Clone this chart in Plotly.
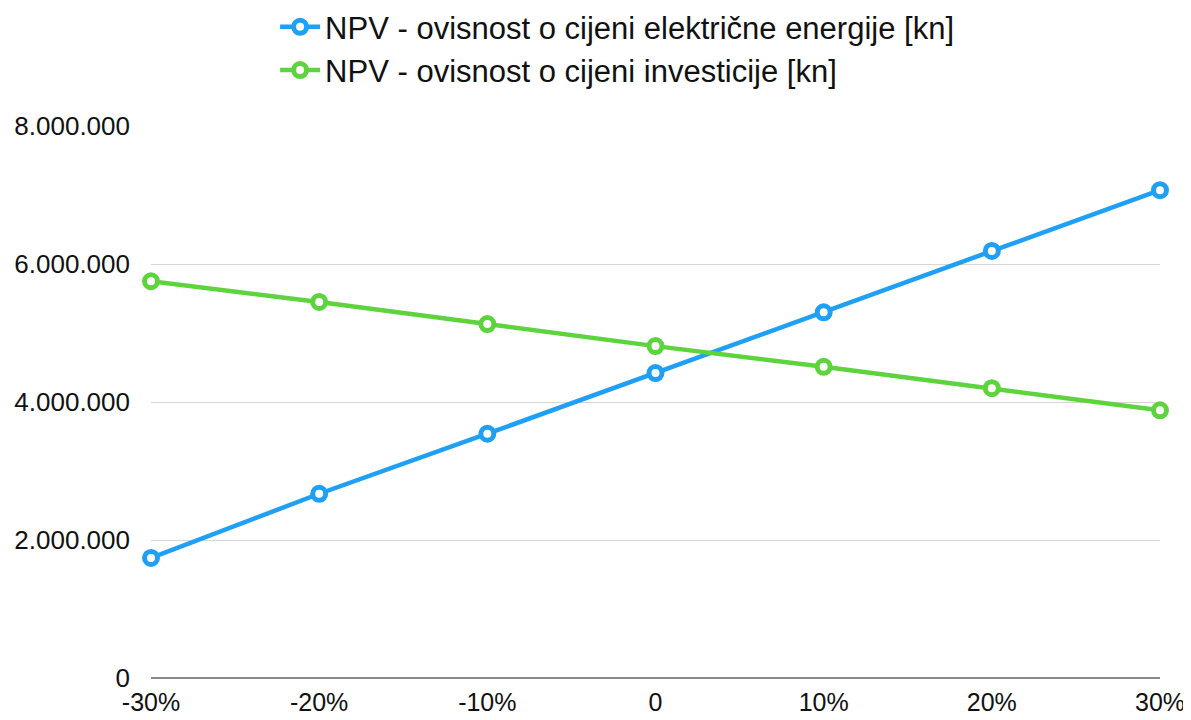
import plotly.graph_objects as go

categories = ["-30%", "-20%", "-10%", "0", "10%", "20%", "30%"]
npv_energy = [1740000, 2670000, 3540000, 4420000, 5300000, 6190000, 7070000]
npv_invest = [5750000, 5450000, 5130000, 4810000, 4510000, 4200000, 3880000]
series_names = ["NPV - ovisnost o cijeni električne energije [kn]",
                "NPV - ovisnost o cijeni investicije [kn]"]
y_ticks = [0, 2000000, 4000000, 6000000, 8000000]

blue = "#1FA0F5"
green = "#5DD43E"
font = "Liberation Sans, Arial, Helvetica, sans-serif"

fig = go.Figure()
for name, vals, col in [(series_names[0], npv_energy, blue), (series_names[1], npv_invest, green)]:
    fig.add_trace(go.Scatter(
        x=list(range(len(categories))), y=vals, name=name,
        mode="lines+markers",
        line=dict(color=col, width=4.5),
        marker=dict(symbol="circle", size=13, color="white",
                    line=dict(color=col, width=5)),
        cliponaxis=False,
    ))

fig.update_layout(
    width=1183, height=712,
    margin=dict(l=143, r=31, t=118, b=42, autoexpand=False),
    paper_bgcolor="white", plot_bgcolor="white",
    separators=",.",
    font=dict(family=font, size=26, color="#111111"),
    showlegend=True,
    legend=dict(x=0.123, y=1.228, xanchor="left", yanchor="top",
                font=dict(size=31, color="#111111"),
                bgcolor="rgba(0,0,0,0)", tracegroupgap=0,
                itemwidth=40),
)
fig.update_xaxes(
    range=[0, 6], tickvals=list(range(len(categories))), ticktext=categories,
    showgrid=False, zeroline=False, showline=False, ticks="",
    ticklabelstandoff=7, tickfont=dict(size=25), automargin=False,
)
fig.update_yaxes(
    range=[0, 8000000], tickvals=y_ticks, tickformat=",d",
    showgrid=True, gridcolor="#D6D6D6", gridwidth=1,
    zeroline=True, zerolinecolor="#8A8A8A", zerolinewidth=1.5,
    showline=False, ticks="", ticklabelstandoff=20, tickfont=dict(size=26),
    automargin=False,
)
fig.write_html("out.html")
